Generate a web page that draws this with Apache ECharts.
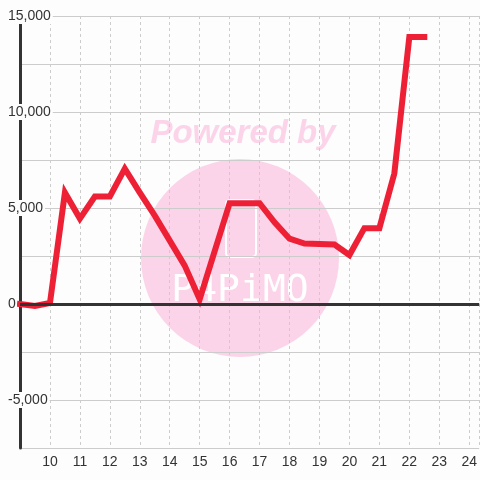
<!DOCTYPE html>
<html>
<head>
<meta charset="utf-8">
<script src="https://cdn.jsdelivr.net/npm/echarts@6/dist/echarts.min.js"></script>
<style>
  html, body { margin: 0; padding: 0; background: #fcfdfc; }
  #chart { width: 480px; height: 480px; }
</style>
</head>
<body>
<div id="chart"></div>
<script>
const xValues = [9, 9.5, 10, 10.5, 11, 11.5, 12, 12.5, 13, 13.5, 14, 14.5, 15, 16, 17, 17.5, 18, 18.5, 19.5, 20, 20.5, 21, 21.5, 22, 22.5];
const yValues = [0, -100, 50, 5800, 4450, 5600, 5600, 7050, 5800, 4600, 3300, 2000, 250, 5250, 5250, 4250, 3400, 3150, 3100, 2550, 3950, 3950, 6800, 13900, 13900];
const yLabelValues = [-5000, 0, 5000, 10000, 15000];

const points = xValues.map((x, i) => [x, yValues[i]]);
const bg = "#fcfdfc";
const pink = "#fcd4e9";

const chart = echarts.init(document.getElementById("chart"));
chart.setOption({
  backgroundColor: bg,
  animation: false,
  grid: { left: 20, right: 0, top: 16, bottom: 32 },
  graphic: [
    { type: "circle", z: -1, shape: { cx: 240, cy: 258, r: 99 }, style: { fill: pink } },
    {
      type: "text", z: -1, x: 243, y: 134,
      style: {
        text: "Powered by", fill: pink, align: "center", verticalAlign: "middle",
        font: "italic bold 33px 'Liberation Sans', Arial, sans-serif"
      }
    },
    {
      type: "rect", z: -1, shape: { x: 226, y: 200, width: 30, height: 57, r: 4 },
      style: { fill: null, stroke: "#ffffff", lineWidth: 2 }
    },
    {
      type: "text", z: -1, x: 240, y: 291,
      style: {
        text: "P4PiMO", fill: "#ffffff", align: "center", verticalAlign: "middle",
        font: "38px 'DejaVu Sans Mono', monospace"
      }
    }
  ],
  xAxis: {
    type: "value",
    min: 9,
    max: 24.333,
    interval: 1,
    axisLine: { lineStyle: { color: "#cccccc", width: 1 } },
    axisTick: { show: false },
    axisLabel: {
      color: "#333333",
      fontSize: 14,
      fontFamily: "Liberation Sans",
      margin: 7,
      showMinLabel: false,
      showMaxLabel: false
    },
    splitLine: { lineStyle: { color: "#cccccc", type: [3, 3], width: 1 } }
  },
  yAxis: {
    type: "value",
    min: -7500,
    max: 15000,
    interval: 2500,
    axisLine: { show: true, lineStyle: { color: "#333333", width: 3 } },
    axisTick: { show: false },
    axisLabel: {
      color: "#333333",
      fontSize: 14,
      fontFamily: "Liberation Sans",
      align: "left",
      margin: 12,
      backgroundColor: bg,
      padding: [1, 2, 1, 0],
      formatter: v => yLabelValues.includes(v) ? v.toLocaleString("en-US") : ""
    },
    splitLine: { lineStyle: { color: "#cccccc", width: 1 } }
  },
  series: [
    {
      type: "line",
      z: 1,
      data: [],
      markLine: {
        silent: true,
        symbol: "none",
        label: { show: false },
        lineStyle: { color: "#333333", width: 3, type: "solid" },
        data: [{ yAxis: 0 }]
      }
    },
    {
      type: "line",
      z: 3,
      data: points,
      showSymbol: false,
      lineStyle: { color: "#ee2036", width: 6, cap: "square", join: "miter" },
      itemStyle: { color: "#ee2036" }
    }
  ]
});
</script>
</body>
</html>
